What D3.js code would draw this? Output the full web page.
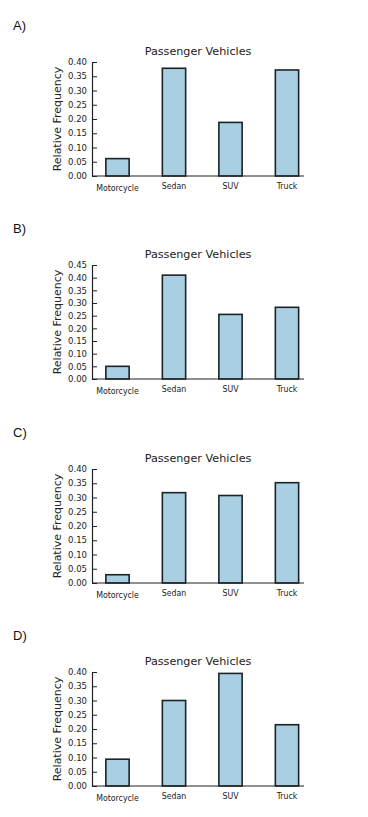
<!DOCTYPE html>
<html>
<head>
<meta charset="utf-8">
<script src="https://cdn.jsdelivr.net/npm/d3@7"></script>
<style>
	body { margin: 0; background: #fff; }
	svg { display: block; }
	.letter { font-family: "Liberation Sans", Arial, sans-serif; font-size: 13px; fill: #111; }
	.chart-title { font-family: "DejaVu Sans", sans-serif; font-size: 11.2px; fill: #222; }
	.y-label { font-family: "DejaVu Sans", sans-serif; font-size: 11px; fill: #222; }
	.axis text { font-family: "DejaVu Sans", sans-serif; font-size: 8.5px; fill: #222; }
	.axis path, .axis line { stroke: #222; }
	.cat-label { font-family: "DejaVu Sans Condensed", "DejaVu Sans", sans-serif; font-size: 8.7px; fill: #222; }
</style>
</head>
<body>
<div id="chartId"></div>
<script>
// categories shared by all four options
var categories = ["Motorcycle", "Sedan", "SUV", "Truck"];

var letters = ["A)", "B)", "C)", "D)"];

// relative frequencies read from each option
var valuesA = [0.061, 0.378, 0.188, 0.372];
var valuesB = [0.050, 0.410, 0.255, 0.283];
var valuesC = [0.029, 0.317, 0.307, 0.352];
var valuesD = [0.094, 0.300, 0.395, 0.215];

// y tick labels for each option
var ticksA = [0, 0.05, 0.10, 0.15, 0.20, 0.25, 0.30, 0.35, 0.40];
var ticksB = [0, 0.05, 0.10, 0.15, 0.20, 0.25, 0.30, 0.35, 0.40, 0.45];
var ticksC = [0, 0.05, 0.10, 0.15, 0.20, 0.25, 0.30, 0.35, 0.40];
var ticksD = [0, 0.05, 0.10, 0.15, 0.20, 0.25, 0.30, 0.35, 0.40];

var chartTitle = "Passenger Vehicles";
var yTitle = "Relative Frequency";

var svg = d3.select("#chartId").append("svg")
	.attr("width", 368)
	.attr("height", 817);

var panels = [
	{ letter: letters[0], values: valuesA, ticks: ticksA, top: 62 },
	{ letter: letters[1], values: valuesB, ticks: ticksB, top: 265 },
	{ letter: letters[2], values: valuesC, ticks: ticksC, top: 469 },
	{ letter: letters[3], values: valuesD, ticks: ticksD, top: 672 }
];

var plotH = 114;
var axisLeftX = 92;
var axisRightX = 304;

var xScale = d3.scaleBand()
	.domain(categories)
	.range([89.25, 315.25])
	.paddingInner(0.588)
	.paddingOuter(0.294);

panels.forEach(function(p){
	var g = svg.append("g").attr("transform", "translate(0," + p.top + ")");

	var yScale = d3.scaleLinear()
		.domain([0, d3.max(p.ticks)])
		.range([plotH, 0]);

	g.append("text")
		.attr("class", "letter")
		.attr("x", 13)
		.attr("y", -32)
		.text(p.letter);

	g.append("text")
		.attr("class", "chart-title")
		.attr("x", 198)
		.attr("y", -7)
		.attr("text-anchor", "middle")
		.text(chartTitle);

	g.append("text")
		.attr("class", "y-label")
		.attr("transform", "translate(61," + (plotH / 2) + ") rotate(-90)")
		.attr("text-anchor", "middle")
		.text(yTitle);

	// bars
	g.selectAll(".bar")
		.data(p.values).enter()
		.append("rect")
			.attr("class", "bar")
			.attr("x", function(d, i){ return xScale(categories[i]); })
			.attr("width", xScale.bandwidth())
			.attr("y", function(d){ return yScale(d); })
			.attr("height", function(d){ return plotH - yScale(d); })
			.attr("fill", "#a9cfe3")
			.attr("stroke", "#1c2226")
			.attr("stroke-width", 1.6);

	// y axis, ticks pointing inward
	var yAxis = d3.axisLeft(yScale)
		.tickValues(p.ticks)
		.tickFormat(d3.format(".2f"))
		.tickSize(-5)
		.tickSizeOuter(0)
		.tickPadding(5);
	g.append("g")
		.attr("class", "axis")
		.attr("transform", "translate(" + axisLeftX + ",0)")
		.call(yAxis)
		.call(function(a){ a.select(".domain").attr("stroke-width", 1.2); });

	// x axis line
	g.append("line")
		.attr("x1", axisLeftX)
		.attr("x2", axisRightX)
		.attr("y1", plotH)
		.attr("y2", plotH)
		.attr("stroke", "#222")
		.attr("stroke-width", 1.2);

	g.selectAll(".cat-label")
		.data(categories).enter()
		.append("text")
			.attr("class", "cat-label")
			.attr("x", function(d){ return xScale(d) + xScale.bandwidth() / 2; })
			.attr("y", function(d, i){ return plotH + (i == 0 ? 15 : 13); })
			.attr("text-anchor", "middle")
			.text(function(d){ return d; });
});
</script>
</body>
</html>
